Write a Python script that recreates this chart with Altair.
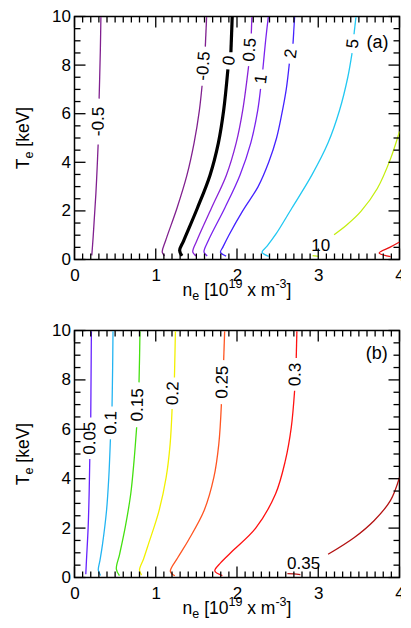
import altair as alt
import pandas as pd

# ---------------- panel (a): contour lines, segments of (n_e, T_e) points ----------------
a_m05_left = [
    [(0.325, 9.98), (0.318, 8.6), (0.310, 7.5), (0.303, 6.62)],
    [(0.291, 4.73), (0.279, 3.8), (0.263, 2.7), (0.246, 1.8), (0.229, 0.9), (0.213, 0.17)],
]
a_m05_right = [
    [(1.626, 9.98), (1.61, 8.76)],
    [(1.57, 7.15), (1.537, 6.14), (1.472, 4.8), (1.383, 3.46), (1.262, 2.12),
     (1.121, 0.77), (1.08, 0.3), (1.109, 0.15)],
]
a_zero = [
    [(1.941, 9.98), (1.925, 8.53)],
    [(1.888, 7.82), (1.836, 6.14), (1.771, 4.8), (1.667, 3.46), (1.513, 2.12),
     (1.343, 0.77), (1.294, 0.37), (1.323, 0.15)],
]
a_p05 = [
    [(2.183, 9.98), (2.176, 9.3)],
    [(2.143, 7.96), (2.07, 6.14), (1.99, 4.8), (1.868, 3.46), (1.686, 2.12),
     (1.505, 0.77), (1.456, 0.3), (1.497, 0.15)],
]
a_p1 = [
    [(2.385, 9.98), (2.352, 9.0), (2.318, 7.82)],
    [(2.29, 7.02), (2.255, 6.14), (2.17, 4.8), (2.035, 3.46), (1.85, 2.12),
     (1.646, 0.77), (1.594, 0.3), (1.634, 0.15)],
]
a_p2 = [
    [(2.709, 9.98), (2.689, 8.88)],
    [(2.644, 8.06), (2.606, 7.0), (2.552, 6.0), (2.487, 5.0), (2.39, 4.0), (2.26, 3.0),
     (2.07, 2.0), (1.9, 1.0), (1.825, 0.5), (1.797, 0.3), (1.866, 0.14)],
]
a_p5 = [
    [(3.464, 9.98), (3.44, 9.27)],
    [(3.416, 8.49), (3.363, 7.49), (3.262, 6.14), (3.121, 4.8), (2.919, 3.46),
     (2.676, 2.12), (2.48, 1.05), (2.37, 0.55), (2.308, 0.3), (2.39, 0.13)],
]
a_p10 = [
    [(4.0, 5.27), (3.888, 4.13), (3.727, 2.92), (3.525, 1.98), (3.35, 1.42), (3.195, 1.02)],
    [(2.93, 0.16), (3.01, 0.13)],
]
a_p20 = [
    [(4.0, 0.72), (3.88, 0.5), (3.75, 0.27), (3.89, 0.12)],
]
A_LEVELS = ["-0.5", "-0.5", "0", "0.5", "1", "2", "5", "10", "20"]
A_CURVES = [a_m05_left, a_m05_right, a_zero, a_p05, a_p1, a_p2, a_p5, a_p10, a_p20]

A_LABEL_TEXT = ["-0.5", "-0.5", "0", "0.5", "1", "2", "5", "10"]
A_LABEL_X = [0.297, 1.59, 1.906, 2.16, 2.30, 2.667, 3.428, 3.03]
A_LABEL_Y = [5.68, 7.96, 8.18, 8.63, 7.42, 8.47, 8.88, 0.56]
A_LABEL_ANGLE = [271, 275, 278, 274, 277, 278, 277, 0]

# ---------------- panel (b) ----------------
b_005 = [
    [(0.208, 9.97), (0.204, 8.2), (0.2, 6.48)],
    [(0.188, 4.8), (0.18, 3.38), (0.168, 2.03), (0.147, 0.68), (0.139, 0.13)],
]
b_01 = [
    [(0.474, 9.97), (0.469, 8.4), (0.462, 6.92)],
    [(0.442, 5.6), (0.422, 4.05), (0.394, 2.7), (0.345, 1.35), (0.313, 0.68),
     (0.293, 0.3), (0.321, 0.08)],
]
b_015 = [
    [(0.806, 9.97), (0.80, 8.8), (0.794, 7.9)],
    [(0.765, 6.08), (0.733, 4.73), (0.692, 3.38), (0.624, 2.03), (0.555, 0.94),
     (0.515, 0.34), (0.553, 0.08)],
]
b_02 = [
    [(1.242, 9.97), (1.236, 9.0), (1.23, 8.1)],
    [(1.201, 6.82), (1.177, 5.4), (1.128, 4.05), (1.04, 2.7), (0.91, 1.35),
     (0.85, 0.75), (0.80, 0.3), (0.826, 0.1)],
]
b_025 = [
    [(1.848, 9.97), (1.836, 8.8)],
    [(1.808, 7.02), (1.776, 5.4), (1.715, 4.05), (1.594, 2.7), (1.40, 1.5),
     (1.27, 0.8), (1.18, 0.25), (1.235, 0.07)],
]
b_03 = [
    [(2.737, 9.97), (2.729, 8.89)],
    [(2.709, 7.56), (2.668, 6.08), (2.595, 4.73), (2.474, 3.38), (2.23, 2.0),
     (1.96, 1.12), (1.80, 0.6), (1.727, 0.27), (1.82, 0.08)],
]
b_035 = [
    [(4.0, 4.05), (3.888, 3.11), (3.686, 2.3), (3.444, 1.62), (3.121, 0.94)],
    [(2.62, 0.16), (2.70, 0.15), (2.78, 0.12)],
]
B_LEVELS = ["0.05", "0.1", "0.15", "0.2", "0.25", "0.3", "0.35"]
B_CURVES = [b_005, b_01, b_015, b_02, b_025, b_03, b_035]

B_LABEL_TEXT = ["0.05", "0.1", "0.15", "0.2", "0.25", "0.3", "0.35"]
B_LABEL_X = [0.194, 0.452, 0.78, 1.215, 1.822, 2.719, 2.82]
B_LABEL_Y = [5.64, 6.26, 6.99, 7.46, 7.91, 8.22, 0.53]
B_LABEL_ANGLE = [270.5, 271, 271, 272, 271, 271, 0]

TAGS = ["(a)", "(b)"]
TAG_X = [3.73, 3.72]
TAG_Y = [8.9, 9.06]

X_TICK_LABELS = [0, 1, 2, 3, 4]
Y_TICK_LABELS = [0, 2, 4, 6, 8, 10]
X_MINOR = [i / 10 for i in range(41) if i % 10]
Y_MINOR = [i / 2 for i in range(21) if i % 4]

# ---------------- styles ----------------
COLORS_A = {"-0.5": "#80208f", "0": "#000000", "0.5": "#8a22d8", "1": "#7a22ee",
            "2": "#4422ff", "5": "#22c8f2", "10": "#c4ee10", "20": "#e81010"}
COLORS_B = {"0.05": "#6622ff", "0.1": "#22b4f2", "0.15": "#44e010", "0.2": "#f2f000",
            "0.25": "#ff5522", "0.3": "#ff1111", "0.35": "#b31212"}
FONT = "Liberation Sans"
W = 325
H_A, H_B = 243, 247
MAJ, MIN = 11, 6
CW = {"n": .556, "e": .556, " ": .278, "[": .278, "]": .278, "1": .556, "0": .556,
      "9": .556, "x": .5, "m": .833, "-": .333, "3": .556, "T": .611, "k": .5, "V": .667}
ONE = pd.DataFrame({"k": [0]})

XS = alt.Scale(domain=[0, 4], nice=False, zero=False)
YS = alt.Scale(domain=[0, 10], nice=False, zero=False)
AX = alt.Axis(values=X_TICK_LABELS, ticks=False, domain=False, grid=False, title=None,
              labelFlush=False, labelPadding=8, labelFontSize=17, format="d",
              labelOverlap=False, labelFont=FONT, labelColor="black")
AY = alt.Axis(values=Y_TICK_LABELS, ticks=False, domain=False, grid=False, title=None,
              labelFlush=False, labelPadding=4, labelFontSize=17, format="d",
              labelOverlap=False, labelFont=FONT, labelColor="black")


def ex(field):
    return alt.X(field, scale=XS, axis=AX, title=None)


def ey(field):
    return alt.Y(field, scale=YS, axis=AY, title=None)


def tw(s, fs):
    return sum(CW.get(c, .556) for c in s) * fs


def line_df(levels, curves):
    rows = []
    for ci, (lev, segs) in enumerate(zip(levels, curves)):
        for si, seg in enumerate(segs):
            for i, (x, y) in enumerate(seg):
                rows.append({"level": lev, "key": f"{ci}_{si}", "i": i, "x": x, "y": y})
    return pd.DataFrame(rows)


def tick_layers():
    out = []
    for vals, size in ((X_TICK_LABELS, MAJ), (X_MINOR, MIN)):
        for edge, off in ((0, -size / 2), (10, size / 2)):
            d = pd.DataFrame({"v": vals, "e": [edge] * len(vals)})
            out.append(alt.Chart(d).mark_tick(orient="vertical", size=size, thickness=1.3,
                                              yOffset=off, color="black", opacity=1).encode(
                x=ex("v:Q"), y=ey("e:Q")))
    for vals, size in ((Y_TICK_LABELS, MAJ), (Y_MINOR, MIN)):
        for edge, off in ((0, size / 2), (4, -size / 2)):
            d = pd.DataFrame({"v": vals, "e": [edge] * len(vals)})
            out.append(alt.Chart(d).mark_tick(orient="horizontal", size=size, thickness=1.3,
                                              xOffset=off, color="black", opacity=1).encode(
                y=ey("v:Q"), x=ex("e:Q")))
    return out


def title_layers(h):
    out = []
    sp = tw(" ", 17.5)
    xp = [("n", 17.5, 0, 0), ("e", 12.5, 4, 0), ("[10", 17.5, 0, sp), ("19", 12.5, -8, 0),
          ("x", 17.5, 0, sp), ("m", 17.5, 0, sp), ("-3", 12.5, -8, 0), ("]", 17.5, 0, 0)]
    total = sum(tw(s, f) + g for s, f, _, g in xp)
    x0 = W / 2 - total / 2
    for s, f, d, g in xp:
        x0 += g
        out.append(alt.Chart(ONE).mark_text(text=s, fontSize=f, font=FONT, align="left",
                                            baseline="alphabetic", dy=d, color="black").encode(
            x=alt.value(x0), y=alt.value(h + 36)))
        x0 += tw(s, f)
    yp = [("T", 17.5, 0, 0), ("e", 12.5, 4, 0), ("[keV]", 17.5, 0, sp)]
    total = sum(tw(s, f) + g for s, f, _, g in yp)
    off = 0
    for s, f, d, g in yp:
        off += g
        out.append(alt.Chart(ONE).mark_text(text=s, fontSize=f, font=FONT, align="left",
                                            baseline="alphabetic", angle=270, dx=off, dy=d,
                                            color="black").encode(
            x=alt.value(-46), y=alt.value(h / 2 + total / 2)))
        off += tw(s, f)
    return out


def panel(levels, curves, colors, ltext, lx, ly, lang, tag, tx, ty, h):
    df = line_df(levels, curves)
    dom = list(colors.keys())
    lines = alt.Chart(df).mark_line(clip=True, interpolate="catmull-rom").encode(
        x=ex("x:Q"), y=ey("y:Q"),
        color=alt.Color("level:N", scale=alt.Scale(domain=dom, range=[colors[k] for k in dom]),
                        legend=None),
        detail="key:N",
        order="i:Q",
        strokeWidth=alt.condition(alt.datum.level == "0", alt.value(3.2), alt.value(1.3)),
    )
    ldf = pd.DataFrame({"t": ltext, "x": lx, "y": ly, "a": lang})
    labels = alt.Chart(ldf).mark_text(fontSize=17, font=FONT, color="black",
                                      align="center", baseline="middle").encode(
        x=ex("x:Q"), y=ey("y:Q"), text="t:N", angle=alt.Angle("a:Q", scale=None))
    tdf = pd.DataFrame({"t": [tag], "x": [tx], "y": [ty]})
    tagm = alt.Chart(tdf).mark_text(fontSize=18, font=FONT, color="black",
                                    align="center", baseline="middle").encode(
        x=ex("x:Q"), y=ey("y:Q"), text="t:N")
    return alt.layer(lines, *tick_layers(), labels, tagm, *title_layers(h)).properties(
        width=W, height=h)


pa = panel(A_LEVELS, A_CURVES, COLORS_A, A_LABEL_TEXT, A_LABEL_X, A_LABEL_Y, A_LABEL_ANGLE,
           TAGS[0], TAG_X[0], TAG_Y[0], H_A)
pb = panel(B_LEVELS, B_CURVES, COLORS_B, B_LABEL_TEXT, B_LABEL_X, B_LABEL_Y, B_LABEL_ANGLE,
           TAGS[1], TAG_X[1], TAG_Y[1], H_B)

chart = alt.vconcat(pa, pb, spacing=17).resolve_scale(color="independent").properties(
    padding={"left": 5.5, "top": -1.5, "right": -4.5, "bottom": 0}
).configure_view(stroke="black", strokeWidth=1.5)

chart.save("out.html", embed_options={"renderer": "svg", "actions": False})
